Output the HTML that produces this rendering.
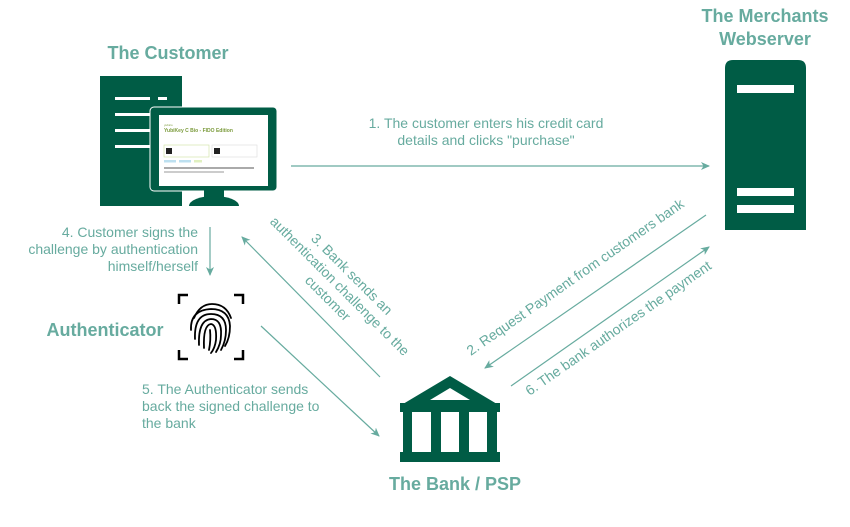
<!DOCTYPE html>
<html><head><meta charset="utf-8"><style>
body{margin:0;background:#fff;}
svg{display:block;font-family:"Liberation Sans",sans-serif;}
</style></head><body>
<svg width="850" height="527" viewBox="0 0 850 527" xmlns="http://www.w3.org/2000/svg">
<defs><marker id="a" markerWidth="10" markerHeight="10" refX="8" refY="4" orient="auto" markerUnits="userSpaceOnUse"><path d="M0,0 L9,4 L0,8 L2.5,4 Z" fill="#67ab9f"/></marker></defs>
<g fill="#67ab9f" font-weight="bold" font-size="18" text-anchor="middle">
<text x="168" y="59">The Customer</text>
<text x="765" y="22">The Merchants</text>
<text x="765" y="45">Webserver</text>
<text x="105" y="336">Authenticator</text>
<text x="455" y="490">The Bank / PSP</text>
</g>
<!-- customer computer -->
<rect x="100" y="76" width="82" height="130" fill="#005c45"/>
<g fill="#fff"><rect x="115" y="97" width="35" height="3"/><rect x="158" y="97" width="9" height="3"/><rect x="115" y="113" width="35" height="3"/><rect x="115" y="129" width="35" height="3"/><rect x="115" y="145" width="35" height="3"/></g>
<rect x="150" y="107" width="127" height="84" rx="4" fill="#005c45" stroke="#fff" stroke-width="1"/>
<rect x="159" y="115" width="109" height="71" fill="#fff"/>
<rect x="204" y="190" width="20" height="8" fill="#005c45"/>
<path d="M189,206 A25,10 0 0 1 239,206 Z" fill="#005c45"/>
<g font-size="4" fill="#7a9a3a"><text x="164" y="126" font-size="3">yubico</text><text x="164" y="132" font-weight="bold" font-size="5">YubiKey C Bio - FIDO Edition</text></g>
<rect x="164" y="145" width="45" height="12" fill="none" stroke="#cde0a0" stroke-width="0.6"/>
<rect x="212" y="145" width="45" height="12" fill="none" stroke="#ddd" stroke-width="0.6"/>
<rect x="166" y="148" width="6" height="6" fill="#222"/><rect x="214" y="148" width="6" height="6" fill="#222"/>
<rect x="164" y="160" width="12" height="2.5" fill="#bde0f0"/><rect x="179" y="160" width="12" height="2.5" fill="#bde0f0"/><rect x="194" y="160" width="8" height="2.5" fill="#e0f0c0"/>
<rect x="164" y="167" width="90" height="2" fill="#aaa"/><rect x="164" y="171" width="60" height="2" fill="#ccc"/>
<!-- server -->
<path d="M725,230 V68 Q725,60 733,60 H798 Q806,60 806,68 V230 Z" fill="#005c45"/>
<g fill="#fff"><rect x="737" y="85" width="57" height="8"/><rect x="737" y="188" width="57" height="8"/><rect x="737" y="205" width="57" height="8"/></g>
<!-- fingerprint -->
<g stroke="#000" stroke-width="2.5" fill="none">
<path d="M179,304 V295 H188 M234,295 H243 V304 M179,350 V359 H188 M234,359 H243 V350"/>
</g>
<g stroke="#000" stroke-width="1.8" fill="none" stroke-linecap="round">
<path d="M194,318 Q200,304 212,304 Q226,304 231,318"/>
<path d="M191,330 Q190,310 211,309 Q229,309 230,326 Q230,338 225,346"/>
<path d="M195,339 Q194,314 211,314 Q226,314 226,330 Q226,341 221,350"/>
<path d="M199,345 Q198,320 211,319 Q222,319 221,335 Q221,344 216,352"/>
<path d="M204,348 Q203,325 211,324 Q217,325 216,340 Q215,348 211,353"/>
<path d="M209,350 Q211,340 210,330"/>
</g>
<!-- bank -->
<g fill="#005c45">
<path d="M450,376 L497,404 L403,404 Z M450,388 L430,400 L470,400 Z" fill-rule="evenodd"/>
<rect x="400" y="403" width="100" height="9"/>
<rect x="403" y="410" width="9" height="44"/><rect x="431" y="410" width="10" height="44"/><rect x="459" y="410" width="10" height="44"/><rect x="487" y="410" width="10" height="44"/>
<rect x="400" y="452" width="100" height="10"/>
</g>
<!-- connectors -->
<g stroke="#67ab9f" stroke-width="1.2" fill="none">
<line x1="291" y1="166" x2="709" y2="166" marker-end="url(#a)"/>
<line x1="210" y1="227" x2="210" y2="275" marker-end="url(#a)"/>
<line x1="380" y1="377" x2="242" y2="237" marker-end="url(#a)"/>
<line x1="261" y1="326" x2="379" y2="436" marker-end="url(#a)"/>
<line x1="706" y1="215" x2="485" y2="368" marker-end="url(#a)"/>
<line x1="511" y1="386" x2="709" y2="247" marker-end="url(#a)"/>
</g>
<g fill="#67ab9f" font-size="14">
<text x="486" y="128" text-anchor="middle">1. The customer enters his credit card</text>
<text x="486" y="145" text-anchor="middle">details and clicks "purchase"</text>
<text x="198" y="237" text-anchor="end">4. Customer signs the</text>
<text x="198" y="254" text-anchor="end">challenge by authentication</text>
<text x="198" y="271" text-anchor="end">himself/herself</text>
<text x="142" y="394">5. The Authenticator sends</text>
<text x="142" y="411">back the signed challenge to</text>
<text x="142" y="428">the bank</text>
<g transform="translate(340,286) rotate(45)" text-anchor="middle">
<text x="0" y="-12">3. Bank sends an</text><text x="0" y="5">authentication challenge to the</text><text x="0" y="22">customer</text></g>
<text transform="translate(578,281) rotate(-35)" text-anchor="middle">2. Request Payment from customers bank</text>
<text transform="translate(621,332) rotate(-35)" text-anchor="middle">6. The bank authorizes the payment</text>
</g>
</svg>
</body></html>
